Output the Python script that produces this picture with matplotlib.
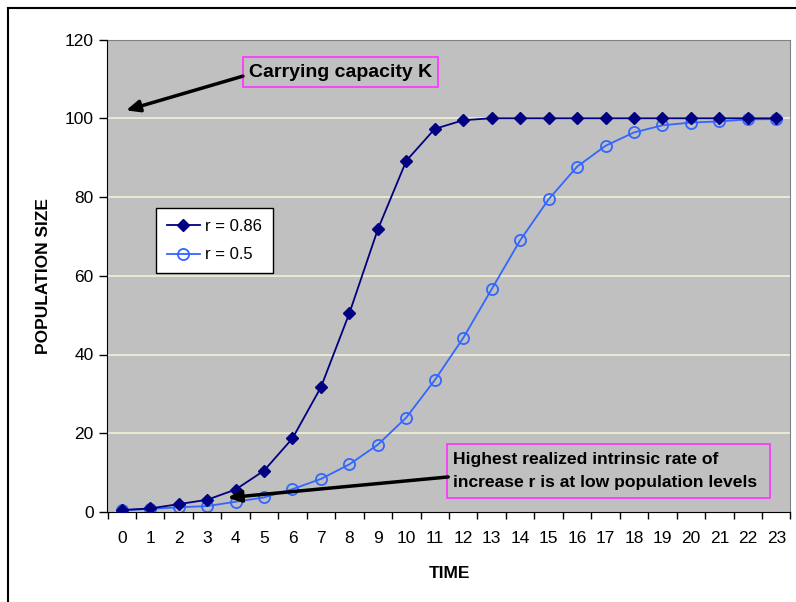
import numpy as np
import matplotlib
matplotlib.use('Agg')
import matplotlib.pyplot as plt
from matplotlib.lines import Line2D
from matplotlib.patches import Rectangle

plt.rcParams['font.family'] = ['Liberation Sans', 'DejaVu Sans']

time = list(range(24))
pop_r086 = [0.5, 0.9, 2.0, 3.1, 5.7, 10.5, 18.7, 31.7, 50.5, 71.8, 89.2, 97.3,
            99.5, 100, 100, 100, 100, 100, 100, 100, 100, 100, 100, 100]
pop_r05 = [0.4, 0.8, 1.2, 1.5, 2.6, 3.7, 5.8, 8.4, 12.1, 17.1, 24.0, 33.5,
           44.2, 56.6, 69.0, 79.4, 87.7, 93.0, 96.4, 98.2, 98.9, 99.2, 99.7, 99.8]
labels = ['r = 0.86', 'r = 0.5']
y_ticks = [0, 20, 40, 60, 80, 100, 120]


def main():
    fig = plt.figure(figsize=(7.96, 6.02), dpi=100)
    ax = fig.add_axes([107.5 / 796, 90 / 602, 683 / 796, 472.5 / 602])
    ax.set_facecolor('#C0C0C0')

    for v in y_ticks[1:-1]:
        ax.axhline(v, color='#F2F2D6', lw=1.2, zorder=1)

    ax.plot(time, pop_r086, color='#000080', lw=1.3, marker='D', ms=6,
            mfc='#000080', mec='#000080', label=labels[0], zorder=3)
    ax.plot(time, pop_r05, color='#3366FF', lw=1.3, marker='o', ms=8,
            mfc='none', mec='#3366FF', mew=1.3, label=labels[1], zorder=2)

    ax.set_xlim(-0.5, 23.5)
    ax.set_ylim(0, 120)
    ax.set_yticks(y_ticks)
    ax.set_xticks(np.arange(-0.5, 24, 1))
    ax.set_xticklabels([])
    ax.set_xticks(time, minor=True)
    ax.set_xticklabels([str(t) for t in time], minor=True, fontsize=12.5)
    ax.tick_params(axis='x', which='major', direction='out', length=5, width=1)
    ax.tick_params(axis='x', which='minor', length=0, pad=14)
    ax.tick_params(axis='y', direction='out', length=6, width=1, labelsize=12.5, pad=4)

    for side in ('top', 'right'):
        ax.spines[side].set_color('#808080')
    for side in ('left', 'bottom'):
        ax.spines[side].set_color('black')

    ax.set_xlabel('TIME', fontsize=12.5, fontweight='bold', labelpad=14)
    ax.set_ylabel('POPULATION SIZE', fontsize=12.5, fontweight='bold', labelpad=10)

    leg = ax.legend(loc='upper left', bbox_to_anchor=(0.071, 0.643), borderaxespad=0,
                    fancybox=False, framealpha=1, edgecolor='black', fontsize=12,
                    handlelength=2.0, handletextpad=0.3, borderpad=0.65, labelspacing=0.8)
    leg.get_frame().set_linewidth(1)

    # carrying capacity note
    ax.add_patch(Rectangle((4.26, 107.9), 6.86, 7.6, fill=False, ec='#FF33FF', lw=1.2, zorder=5))
    ax.text(7.69, 111.7, 'Carrying capacity K', ha='center', va='center',
            fontsize=14, fontweight='bold', zorder=6)
    ax.annotate('', xy=(0.15, 102.0), xytext=(4.26, 110.7),
                arrowprops=dict(arrowstyle='-|>,head_length=0.8,head_width=0.35',
                                color='black', lw=2.5, shrinkA=0, shrinkB=0), zorder=6)

    # low population note
    ax.add_patch(Rectangle((11.43, 3.55), 11.35, 13.75, fill=False, ec='#FF33FF', lw=1.2, zorder=5))
    ax.text(11.64, 10.4, 'Highest realized intrinsic rate of\nincrease r is at low population levels',
            ha='left', va='center', fontsize=12.6, fontweight='bold', linespacing=1.65, zorder=6)
    ax.annotate('', xy=(3.72, 3.63), xytext=(11.47, 8.9),
                arrowprops=dict(arrowstyle='-|>,head_length=0.8,head_width=0.35',
                                color='black', lw=2.5, shrinkA=0, shrinkB=0), zorder=6)

    # outer chart border
    fig.add_artist(Line2D([8 / 796, 8 / 796], [0, 1 - 8 / 602], color='black', lw=1.5))
    fig.add_artist(Line2D([8 / 796, 1], [1 - 8 / 602, 1 - 8 / 602], color='black', lw=1.5))

    fig.savefig('out.png', dpi=100)


if __name__ == '__main__':
    main()
